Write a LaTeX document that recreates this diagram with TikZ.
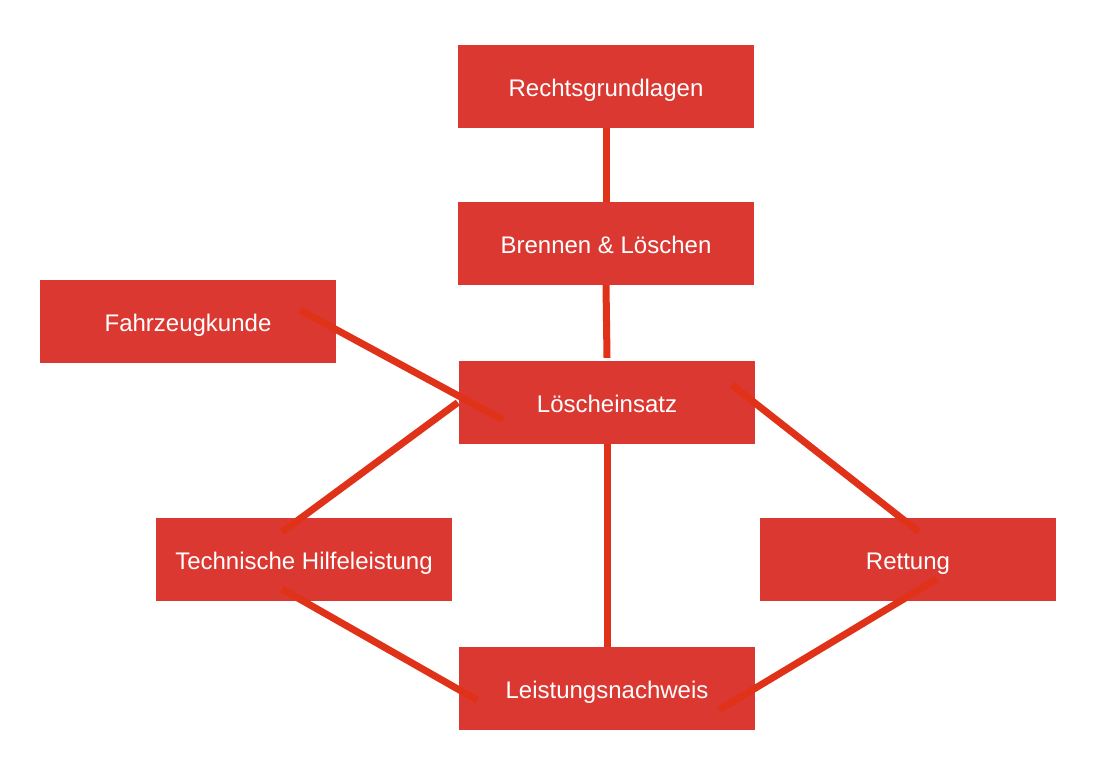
\documentclass[tikz,border=0pt]{standalone}
\usepackage{fontspec}
\setmainfont{Liberation Sans}
\usepackage{xcolor}
\usetikzlibrary{calc}
\usetikzlibrary{positioning}
\definecolor{boxred}{HTML}{DB3832}
\definecolor{linered}{HTML}{E03219}
\def\thickness{7pt}
\tikzset{
topic/.style={fill=boxred, text=white, minimum width=296pt, minimum height=83pt,
	inner sep=0pt, text height=21pt, text depth=0pt, font=\fontsize{24}{28}\selectfont},
link/.style={draw=linered, line width=\thickness},
}

\begin{document}
\begin{tikzpicture}[x=1pt, y=1pt]
\useasboundingbox (0,0) rectangle (1105,778);
%Place the nodes
\node[topic] (recht) at (606,691.5) {Rechtsgrundlagen};
\node[topic] (brennen) at (606,534.5) {Brennen \& Löschen};
\node[topic] (fahrzeug) at (188,456.5) {Fahrzeugkunde};
\node[topic] (loesch) at (607,375.5) {Löscheinsatz};
\node[topic] (thl) at (304,218.5) {Technische Hilfeleistung};
\node[topic] (rettung) at (908,218.5) {Rettung};
\node[topic] (leistung) at (607,89.5) {Leistungsnachweis};

%Straight links
\draw[link] (recht.south) to (brennen.north);
\draw[link] (brennen.south) to ([yshift=3pt]loesch.north);
\draw[link] (loesch.south) to (leistung.north);

%Diagonal links
\draw[link] ($(fahrzeug.center)+(112,11.5)$) to ($(loesch.center)+(-104,-17.5)$);
\draw[link] ([xshift=-1pt]loesch.west) to ($(thl.center)+(-22,27.5)$);
\draw[link] ($(loesch.center)+(125,17.5)$) to ($(rettung.center)+(11,27.5)$);
\draw[link] ($(thl.center)+(-22,-29.5)$) to ($(leistung.center)+(-130,-11.5)$);
\draw[link] ($(rettung.center)+(29,-19.5)$) to ($(leistung.center)+(112,-21.5)$);

\end{tikzpicture}
\end{document}
